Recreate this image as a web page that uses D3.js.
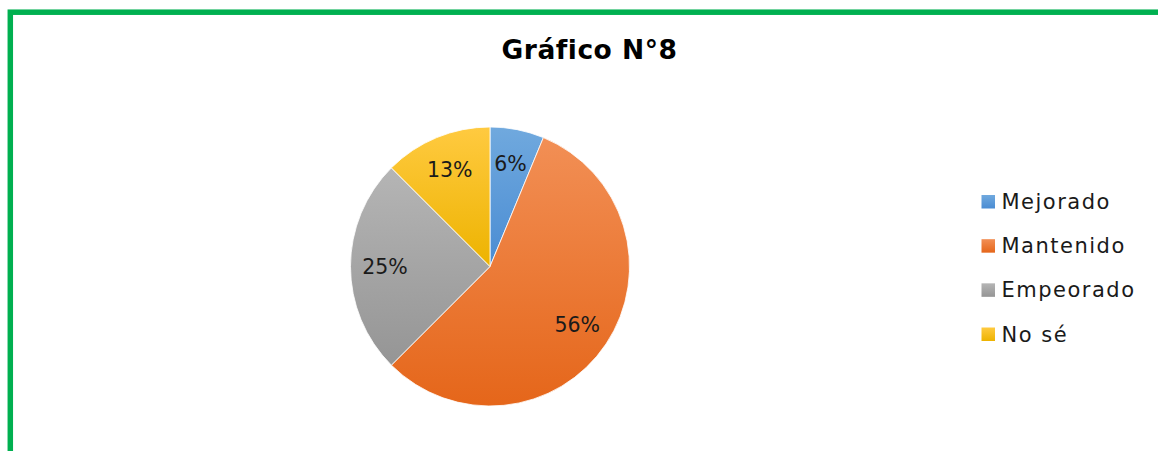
<!DOCTYPE html>
<html>
<head>
<meta charset="utf-8">
<script src="https://cdn.jsdelivr.net/npm/d3@7"></script>
<style>
  html, body { margin: 0; padding: 0; background: #fff; }
  svg { display: block; }
</style>
</head>
<body>
<svg id="chart" width="1158" height="451"></svg>
<script>
const title = "Gráfico N°8";
const categories = ["Mejorado", "Mantenido", "Empeorado", "No sé"];
const values = [6.25, 56.25, 25, 12.5];
const labels = ["6%", "56%", "25%", "13%"];
const colorTop = ["#70A9DE", "#F28F55", "#B5B5B5", "#FFCA40"];
const colorBottom = ["#4A8CD3", "#E5661A", "#959595", "#EDB300"];

const W = 1158, H = 451;
const svg = d3.select("#chart");
const font = "'DejaVu Sans', sans-serif";

const defs = svg.append("defs");
categories.forEach((c, i) => {
  const g = defs.append("linearGradient")
    .attr("id", "grad" + i)
    .attr("x1", 0).attr("y1", 0).attr("x2", 0).attr("y2", 1);
  g.append("stop").attr("offset", "0%").attr("stop-color", colorTop[i]);
  g.append("stop").attr("offset", "100%").attr("stop-color", colorBottom[i]);
});

// border
svg.append("rect")
  .attr("x", 10.3).attr("y", 12.2)
  .attr("width", W + 50).attr("height", H + 50)
  .attr("fill", "none")
  .attr("stroke", "#00B050")
  .attr("stroke-width", 5.5);

// title
svg.append("text")
  .attr("x", 589.5).attr("y", 59)
  .attr("text-anchor", "middle")
  .attr("font-family", font)
  .attr("font-weight", "bold")
  .attr("font-size", 26.5)
  .attr("letter-spacing", 0.5)
  .attr("fill", "#000")
  .text(title);

const cx = 490, cy = 266.5, R = 139.5;
const pie = d3.pie().sort(null).value(d => d);
const arcs = pie(values);
const arc = d3.arc().innerRadius(0).outerRadius(R);
const labelArc = d3.arc().innerRadius(105).outerRadius(105);

const g = svg.append("g").attr("transform", `translate(${cx},${cy})`);
g.selectAll("path.slice")
  .data(arcs)
  .join("path")
  .attr("class", "slice")
  .attr("d", arc)
  .attr("fill", (d, i) => `url(#grad${i})`)
  .attr("stroke", "#fff")
  .attr("stroke-width", 0.8)
  .attr("stroke-linejoin", "round");

g.selectAll("text.lbl")
  .data(arcs)
  .join("text")
  .attr("class", "lbl")
  .attr("transform", (d, i) => {
    const [x, y] = labelArc.centroid(d);
    return `translate(${x},${y})`;
  })
  .attr("text-anchor", "middle")
  .attr("dy", "0.36em")
  .attr("font-family", font)
  .attr("font-size", 20.5)
  .attr("fill", "#1a1a1a")
  .text((d, i) => labels[i]);

// legend
const ly = d3.scalePoint().domain(categories).range([201.5, 334]);
const leg = svg.append("g");
const items = leg.selectAll("g").data(categories).join("g")
  .attr("transform", d => `translate(0,${ly(d)})`);
items.append("rect")
  .attr("x", 981.5).attr("y", -6.5)
  .attr("width", 13.5).attr("height", 13.5)
  .attr("fill", (d, i) => `url(#grad${i})`);
items.append("text")
  .attr("x", 1001.5).attr("y", 0)
  .attr("dy", "0.36em")
  .attr("font-family", font)
  .attr("font-size", 21)
  .attr("letter-spacing", 1.5)
  .attr("fill", "#1a1a1a")
  .text(d => d);
</script>
</body>
</html>
